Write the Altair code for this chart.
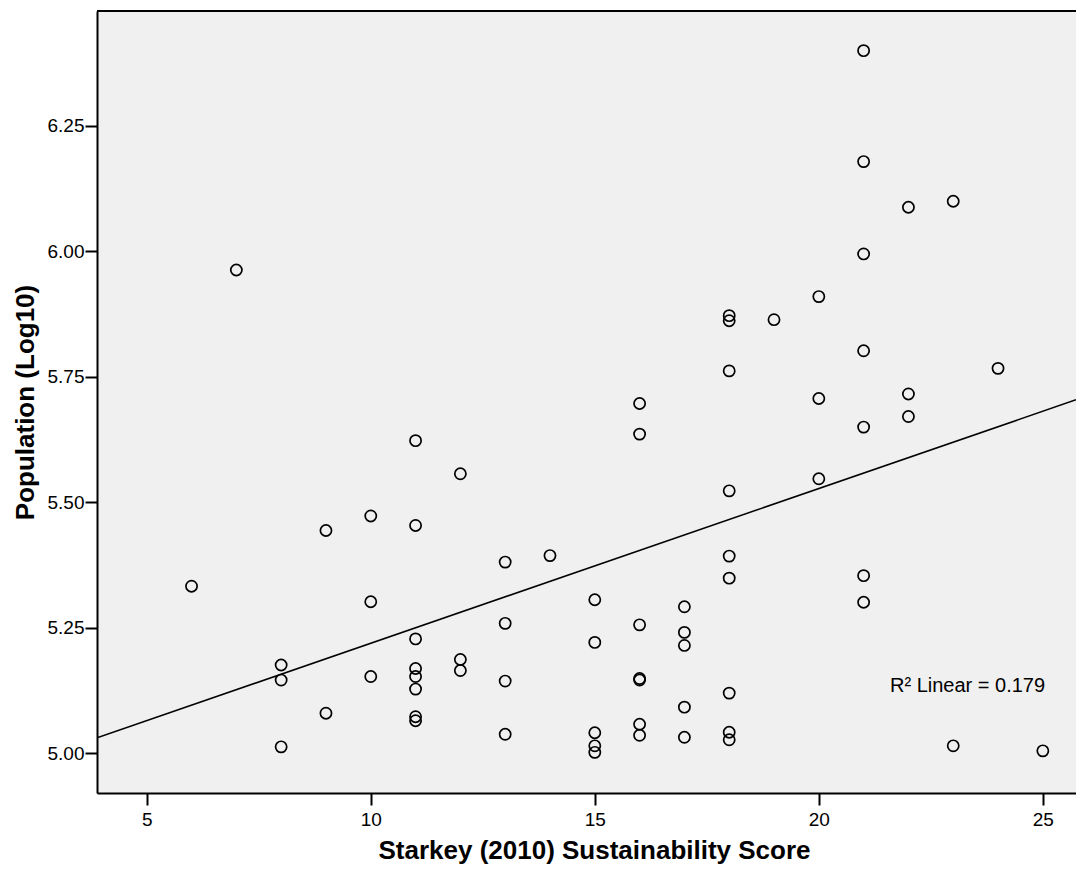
import altair as alt
import pandas as pd

# Starkey (2010) sustainability score (x) and population, log10 (y)
score = (
    [6] + [7] + [8] * 3 + [9] * 2 + [10] * 3 + [11] * 8 + [12] * 3 + [13] * 4
    + [14] + [15] * 5 + [16] * 7 + [17] * 5 + [18] * 9 + [19] + [20] * 3
    + [21] * 7 + [22] * 3 + [23] * 2 + [24] + [25]
)
population = [
    5.333,
    5.963,
    5.176, 5.146, 5.013,
    5.444, 5.080,
    5.473, 5.302, 5.153,
    5.623, 5.454, 5.228, 5.169, 5.153, 5.128, 5.073, 5.065,
    5.557, 5.187, 5.165,
    5.381, 5.259, 5.144, 5.038,
    5.394,
    5.306, 5.221, 5.041, 5.015, 5.002,
    5.697, 5.636, 5.256, 5.149, 5.146, 5.058, 5.036,
    5.292, 5.241, 5.215, 5.092, 5.032,
    5.872, 5.862, 5.762, 5.523, 5.393, 5.349, 5.120, 5.042, 5.027,
    5.864,
    5.910, 5.707, 5.547,
    6.400, 6.179, 5.995, 5.802, 5.650, 5.354, 5.301,
    6.088, 5.716, 5.671,
    6.100, 5.015,
    5.767,
    5.005,
]

x_domain = [3.89, 25.74]
y_domain = [4.921, 6.479]
x_ticks = [5, 10, 15, 20, 25]
y_ticks = [5.00, 5.25, 5.50, 5.75, 6.00, 6.25]
x_title = "Starkey (2010) Sustainability Score"
y_title = "Population (Log10)"
r2_label = "R\u00b2 Linear = 0.179"

W, H = 979, 782
FONT = "Liberation Sans"

df = pd.DataFrame({"score": score, "pop": population})

base = alt.Chart(df).encode(
    x=alt.X(
        "score:Q",
        scale=alt.Scale(domain=x_domain, nice=False, zero=False),
        axis=alt.Axis(
            values=x_ticks,
            title=x_title,
            grid=False,
            tickSize=12,
            tickWidth=2,
            tickColor="black",
            domainColor="black",
            domainWidth=2,
            labelFont=FONT,
            labelFontSize=19,
            labelColor="black",
            labelPadding=5,
            labelFlush=False,
            titleFont=FONT,
            titleFontSize=26,
            titleFontWeight="bold",
            titleColor="black",
            titleBaseline="alphabetic",
            titleAlign="center",
            titleX=497,
            titleY=65,
        ),
    ),
    y=alt.Y(
        "pop:Q",
        scale=alt.Scale(domain=y_domain, nice=False, zero=False),
        axis=alt.Axis(
            values=y_ticks,
            format=".2f",
            title=y_title,
            grid=False,
            tickSize=12,
            tickWidth=2,
            tickColor="black",
            domainColor="black",
            domainWidth=2,
            labelFont=FONT,
            labelFontSize=19,
            labelColor="black",
            labelPadding=1,
            labelFlush=False,
            titleFont=FONT,
            titleFontSize=26,
            titleFontWeight="bold",
            titleColor="black",
            titleAngle=-90,
            titleAlign="center",
            titleBaseline="alphabetic",
            titleX=-64,
            titleY=H / 2,
        ),
    ),
)

points = base.mark_point(
    shape="circle", filled=False, size=125, strokeWidth=1.7, color="black", opacity=1
)

fit = base.transform_regression("score", "pop", extent=x_domain).mark_line(
    color="black", strokeWidth=1.6, clip=True
)

label = alt.Chart(pd.DataFrame({"t": [r2_label]})).mark_text(
    font=FONT, fontSize=20, color="black", align="left", baseline="alphabetic"
).encode(text="t:N", x=alt.value(793), y=alt.value(681))

top_border = alt.Chart(pd.DataFrame({"a": [0]})).mark_rule(
    color="black", strokeWidth=2
).encode(x=alt.value(0), x2=alt.value(W), y=alt.value(0))

chart = (
    alt.layer(points, fit, label, top_border)
    .properties(
        width=W,
        height=H,
        autosize=alt.AutoSizeParams(type="none"),
        padding={"left": 89, "top": 3, "right": 0, "bottom": 74},
        background="white",
    )
    .configure_view(fill="#F0F0F0", stroke="transparent")
)

chart.save("out.html", embed_options={"renderer": "svg", "actions": False})
